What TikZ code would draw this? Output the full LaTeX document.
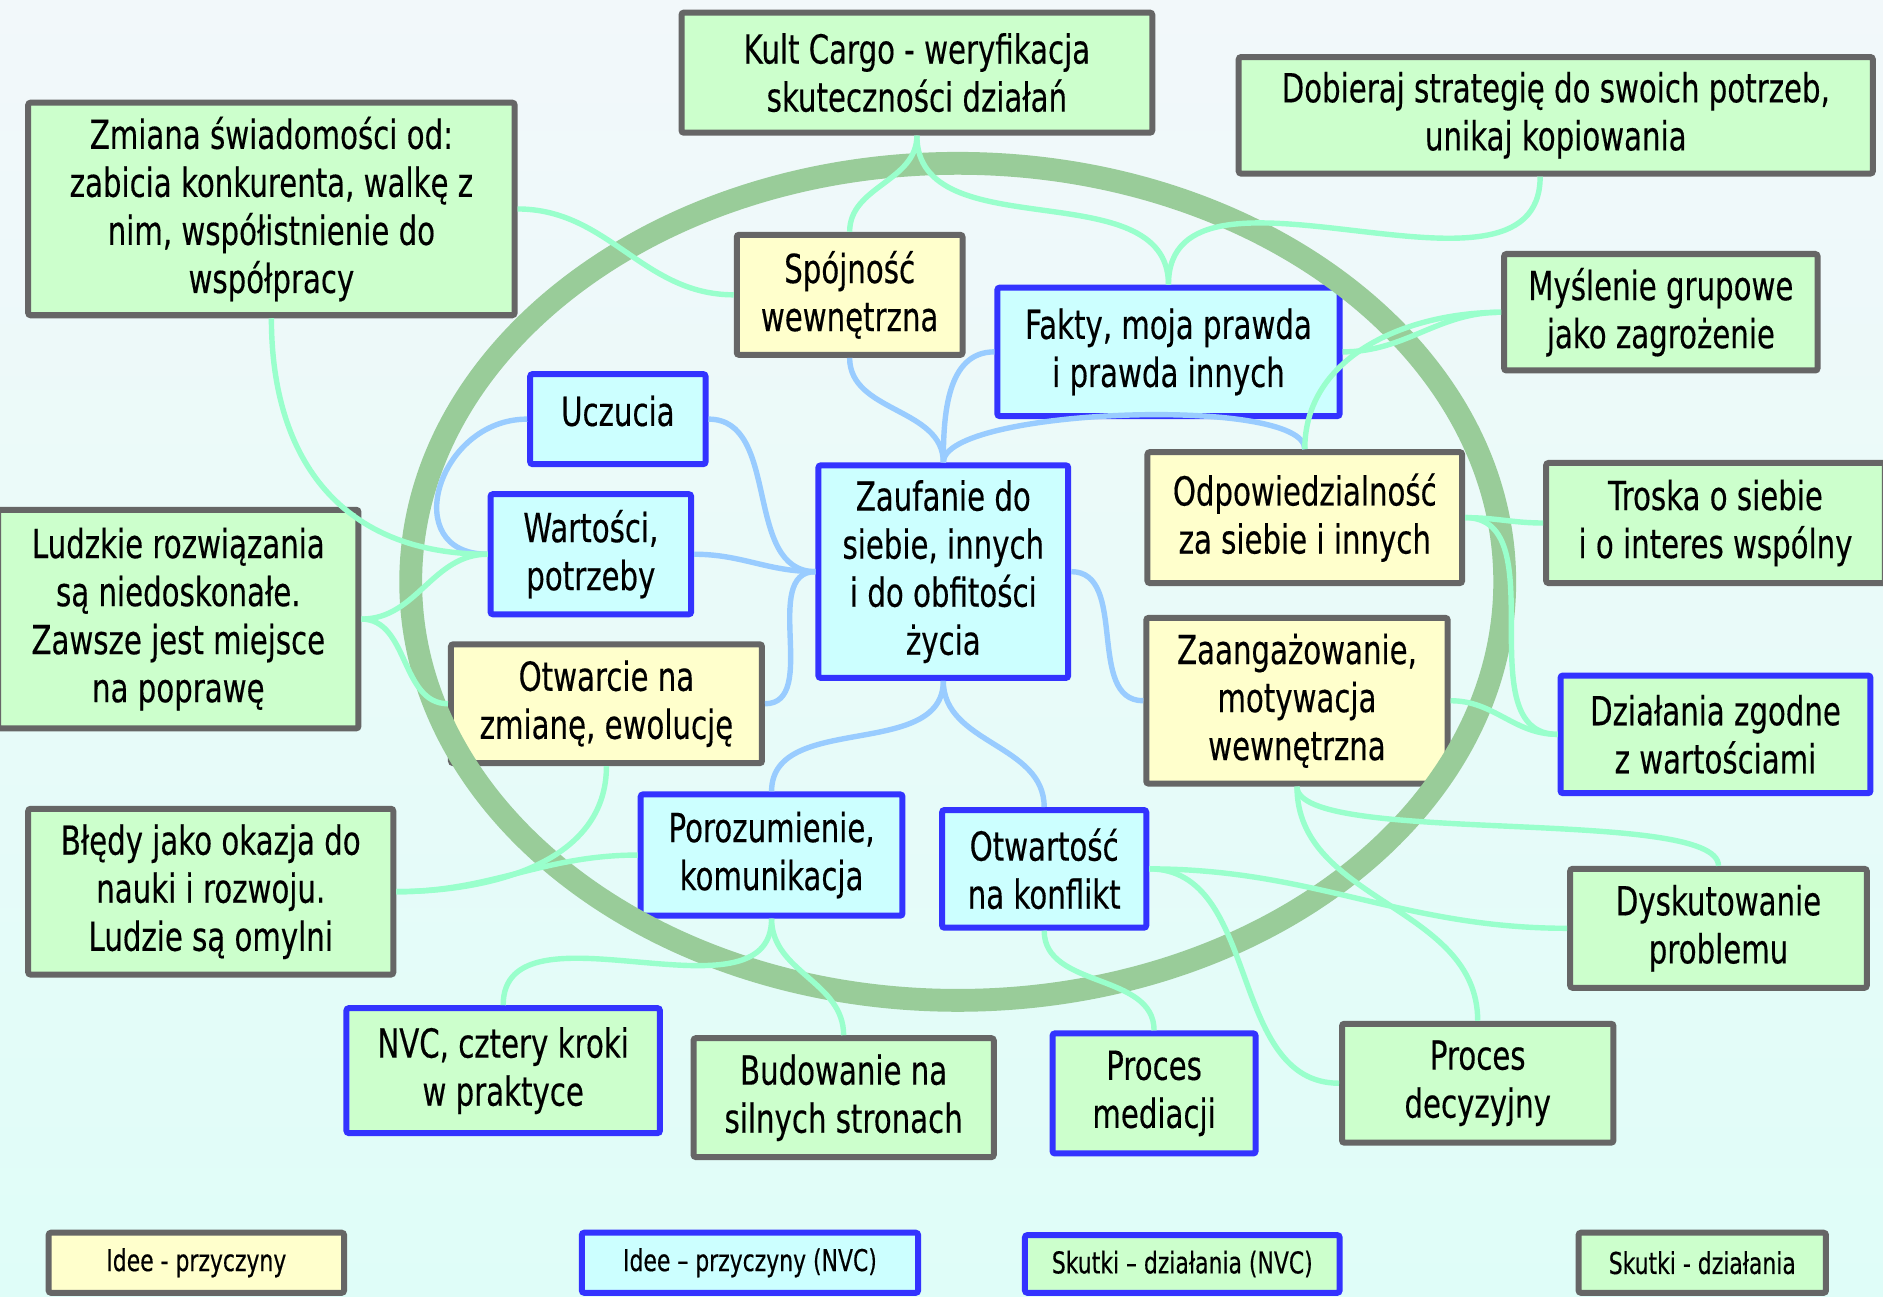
\documentclass[tikz,border=0pt]{standalone}
\usepackage{fontspec}
\setmainfont{DejaVu Sans}[FakeStretch=0.73,FakeBold=0.35]
\definecolor{gfill}{HTML}{CCFFCC}
\definecolor{yfill}{HTML}{FFFFCC}
\definecolor{cfill}{HTML}{CCFFFF}
\definecolor{grayline}{HTML}{666666}
\definecolor{blueline}{HTML}{3333FF}
\definecolor{lgreen}{HTML}{99FFCC}
\definecolor{lblue}{HTML}{99CCFF}
\definecolor{ringc}{HTML}{99CC99}
\definecolor{bgtop}{HTML}{F2F8FA}
\definecolor{bgbot}{HTML}{DFFDF8}
\tikzset{
  bxs/.style={rectangle, line width=3pt, rounded corners=1.2pt, align=center, inner sep=0pt,
              font=\fontsize{20}{24}\selectfont},
  gbox/.style={bxs, fill=gfill, draw=grayline},
  ybox/.style={bxs, fill=yfill, draw=grayline},
  cbox/.style={bxs, fill=cfill, draw=blueline},
  gbbox/.style={bxs, fill=gfill, draw=blueline},
  smalltxt/.style={font=\fontsize{15}{18}\selectfont},
  lg/.style={draw=lgreen, line width=2.7pt},
  lb/.style={draw=lblue, line width=2.7pt},
  ringstyle/.style={draw=ringc, line width=11.4pt},
}
\newcommand\mybox[7]{%
  \node[#6, minimum width={(#4-#2-5)*0.6pt}, minimum height={(#5-#3-5)*0.6pt}]
    (#1) at ({(#2+#4)/2},{(#3+#5)/2}) {#7};}
\begin{document}
\begin{tikzpicture}[x=0.6pt, y=-0.6pt]
\useasboundingbox (0,0) rectangle (1568,1080);
\shade[top color=bgtop, bottom color=bgbot] (0,0) rectangle (1568,1080);

% boxes
\mybox{kult}{565}{8}{962}{113}{gbox}{Kult Cargo - weryfikacja\\skuteczności działań}
\mybox{dob}{1029}{45}{1562}{147}{gbox}{Dobieraj strategię do swoich potrzeb,\\unikaj kopiowania}
\mybox{zmi}{21}{83}{431}{265}{gbox}{Zmiana świadomości od:\\zabicia konkurenta, walkę z\\nim, współistnienie do\\współpracy}
\mybox{spo}{611}{193}{804}{298}{ybox}{Spójność\\wewnętrzna}
\mybox{fak}{828}{237}{1118}{349}{cbox}{Fakty, moja prawda\\i prawda innych}
\mybox{mys}{1250}{209}{1516}{311}{gbox}{Myślenie grupowe\\jako zagrożenie}
\mybox{ucz}{439}{309}{590}{389}{cbox}{\raisebox{8.4pt}{Uczucia}}
\mybox{war}{406}{409}{578}{514}{cbox}{Wartości,\\potrzeby}
\mybox{zau}{679}{385}{892}{567}{cbox}{Zaufanie do\\siebie, innych\\i do obfitości\\życia}
\mybox{odp}{953}{374}{1220}{488}{ybox}{Odpowiedzialność\\za siebie i innych}
\mybox{tro}{1285}{383}{1572}{488}{gbox}{Troska o siebie\\i o interes wspólny}
\mybox{lud}{-4}{422}{301}{609}{gbox}{Ludzkie rozwiązania\\są niedoskonałe.\\Zawsze jest miejsce\\na poprawę}
\mybox{otw}{373}{534}{637}{638}{ybox}{Otwarcie na\\zmianę, ewolucję}
\mybox{zaa}{952}{512}{1208}{655}{ybox}{Zaangażowanie,\\motywacja\\wewnętrzna}
\mybox{dzi}{1297}{560}{1560}{663}{gbbox}{Działania zgodne\\z wartościami}
\mybox{ble}{21}{671}{330}{814}{gbox}{Błędy jako okazja do\\nauki i rozwoju.\\Ludzie są omylni}
\mybox{por}{531}{659}{754}{765}{cbox}{Porozumienie,\\komunikacja}
\mybox{ota}{782}{672}{957}{775}{cbox}{Otwartość\\na konflikt}
\mybox{dys}{1305}{721}{1557}{825}{gbox}{Dyskutowanie\\problemu}
\mybox{nvc}{286}{837}{552}{946}{gbbox}{NVC, cztery kroki\\w praktyce}
\mybox{bud}{575}{862}{830}{966}{gbox}{Budowanie na\\silnych stronach}
\mybox{med}{874}{858}{1048}{963}{gbbox}{Proces\\mediacji}
\mybox{dec}{1115}{850}{1346}{954}{gbox}{Proces\\decyzyjny}
% legend
\mybox{la}{38}{1024}{289}{1079}{ybox,smalltxt}{Idee - przyczyny}
\mybox{lb}{482}{1024}{767}{1079}{cbox,smalltxt}{Idee – przyczyny (NVC)}
\mybox{lc}{851}{1026}{1118}{1079}{gbbox,smalltxt}{Skutki – działania (NVC)}
\mybox{ld}{1312}{1024}{1523}{1079}{gbox,smalltxt}{Skutki - działania}

% ring
\draw[ringstyle] (797.5,484.5) ellipse [x radius=455.5, y radius=348.5];

% blue connectors
\draw[lb] (spo.south) to[out=-90,in=90] (zau.north);
\draw[lb] (fak.west) to[out=180,in=90] (zau.north);
\draw[lb] (zau.north) .. controls +(0,-45) and +(0,-45) .. (odp.north);
\draw[lb] (ucz.east) to[out=0,in=180] (zau.west);
\draw[lb] (war.east) to[out=0,in=180] (zau.west);
\draw[lb] (otw.east) to[out=0,in=180] (zau.west);
\draw[lb] (ucz.west) .. controls +(-75,0) and +(-75,0) .. (war.west);
\draw[lb] (zau.east) to[out=0,in=180] (zaa.west);
\draw[lb] (zau.south) to[out=-90,in=90] (por.north);
\draw[lb] (zau.south) to[out=-90,in=90] (ota.north);

% green connectors
\draw[lg] (kult.south) to[out=-90,in=90] (spo.north);
\draw[lg] (kult.south) to[out=-90,in=90] (fak.north);
\draw[lg] ([xshift=-7.8pt]dob.south) to[out=-90,in=90] (fak.north);
\draw[lg] (zmi.east) to[out=0,in=180] (spo.west);
\draw[lg] (zmi.south) to[out=-90,in=180,looseness=1.15] (war.west);
\draw[lg] (lud.east) to[out=0,in=180] (war.west);
\draw[lg] (lud.east) to[out=0,in=180] (otw.west);
\draw[lg] (mys.west) to[out=180,in=0] (fak.east);
\draw[lg] (mys.west) to[out=180,in=90] (odp.north);
\draw[lg] (odp.east) to[out=0,in=180] (tro.west);
\draw[lg] (odp.east) to[out=0,in=180] (dzi.west);
\draw[lg] (zaa.east) to[out=0,in=180] (dzi.west);
\draw[lg] (zaa.south) .. controls +(0,50) and +(0,-50) .. (dys.north);
\draw[lg] (zaa.south) to[out=-90,in=90] (dec.north);
\draw[lg] (ota.east) to[out=0,in=180] (dys.west);
\draw[lg] (ota.east) to[out=0,in=180] (dec.west);
\draw[lg] (ota.south) to[out=-90,in=90] (med.north);
\draw[lg] (por.south) to[out=-90,in=90] (nvc.north);
\draw[lg] (por.south) to[out=-90,in=90] (bud.north);
\draw[lg] (por.west) to[out=180,in=0] (ble.east);
\draw[lg] (otw.south) to[out=-90,in=0] (ble.east);
\end{tikzpicture}
\end{document}
